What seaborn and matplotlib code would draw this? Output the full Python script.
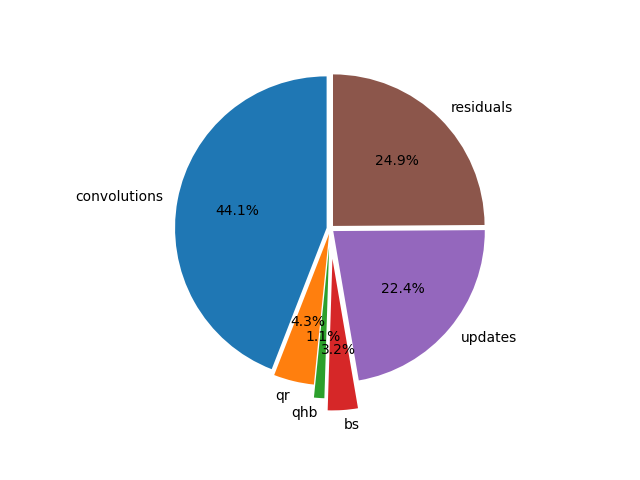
import matplotlib
matplotlib.use('Agg')
import matplotlib.pyplot as plt
import seaborn as sns

# slice names and shares (percent)
labels = ['convolutions', 'qr', 'qhb', 'bs', 'updates', 'residuals']
shares = [44.1, 4.3, 1.1, 3.2, 22.4, 24.9]
explode = [0.025, 0.035, 0.12, 0.2, 0.025, 0.025]

colors = sns.color_palette('tab10', len(labels))

fig, ax = plt.subplots(figsize=(6.4, 4.8), dpi=100)
fig.subplots_adjust(left=0.128, right=0.903)
ax.pie(shares, labels=labels, colors=colors, explode=explode,
       autopct='%1.1f%%', startangle=90)
ax.axis('equal')

fig.savefig('out.png', dpi=100)
